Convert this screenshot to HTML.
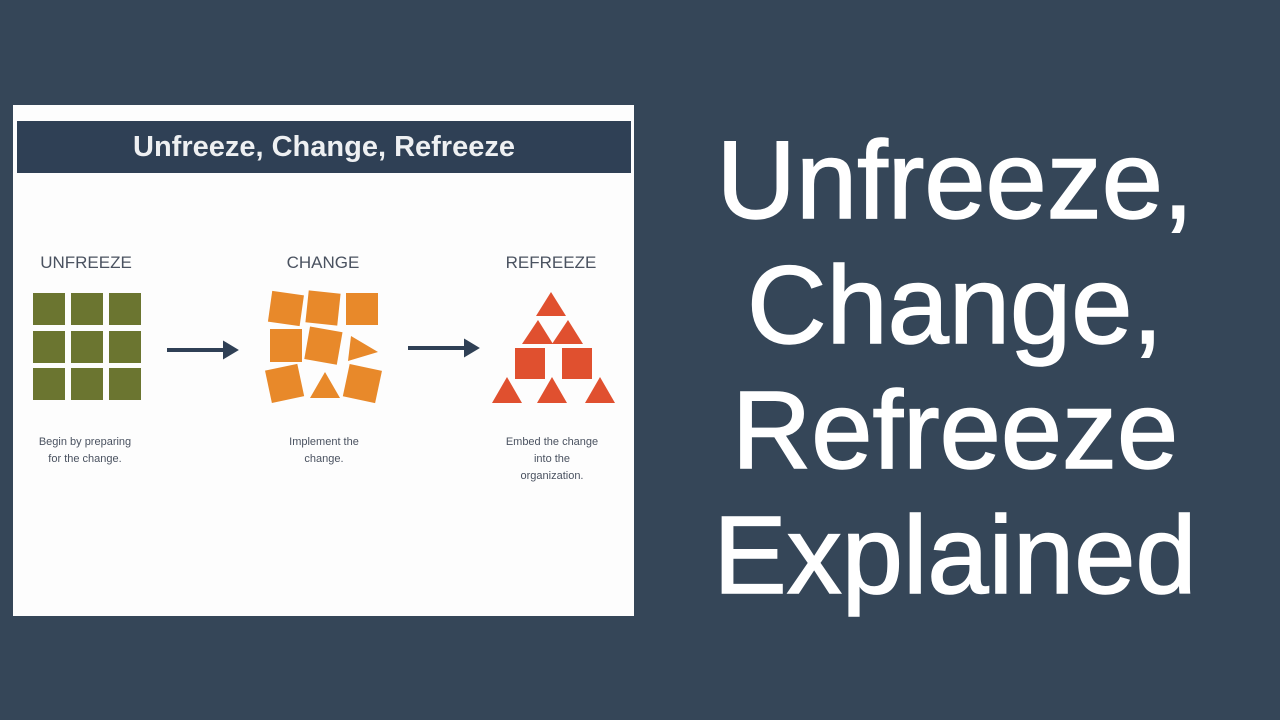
<!DOCTYPE html>
<html><head><meta charset="utf-8"><style>
html,body{margin:0;padding:0}
body{width:1280px;height:720px;background:#354658;position:relative;overflow:hidden;font-family:"Liberation Sans",sans-serif}
.panel{position:absolute;left:13px;top:105px;width:621px;height:511px;background:#fdfdfd}
.hdr{position:absolute;left:17px;top:121px;width:614px;height:52px;background:#2f4055;color:#eef0f2;font-weight:bold;font-size:29px;text-align:center;line-height:52px}
.lbl{position:absolute;color:#4a5260;font-size:17px;text-align:center;width:160px}
.cap{position:absolute;color:#4a5260;font-size:11px;text-align:center;width:160px;line-height:17px}
.big{position:absolute;left:640px;width:630px;text-align:center;color:#fff;font-size:110px;line-height:125px;top:118px;-webkit-text-stroke:1.5px #fff}
</style></head><body>
<div class="panel"></div>
<div class="hdr">Unfreeze, Change, Refreeze</div>
<div class="lbl" style="left:6px;top:253px">UNFREEZE</div>
<div class="lbl" style="left:243px;top:253px">CHANGE</div>
<div class="lbl" style="left:471px;top:253px">REFREEZE</div>
<div class="cap" style="left:5px;top:434px">Begin by preparing<br>for the change.</div>
<div class="cap" style="left:244px;top:434px">Implement the<br>change.</div>
<div class="cap" style="left:472px;top:434px">Embed the change<br>into the<br>organization.</div>
<svg width="1280" height="720" style="position:absolute;left:0;top:0">
<g fill="#6b7530">
<rect x="33" y="293" width="32" height="32"/><rect x="71" y="293" width="32" height="32"/><rect x="109" y="293" width="32" height="32"/>
<rect x="33" y="331" width="32" height="32"/><rect x="71" y="331" width="32" height="32"/><rect x="109" y="331" width="32" height="32"/>
<rect x="33" y="368" width="32" height="32"/><rect x="71" y="368" width="32" height="32"/><rect x="109" y="368" width="32" height="32"/>
</g>
<g stroke="#2f4055" stroke-width="4" fill="#2f4055">
<line x1="167" y1="350" x2="226" y2="350"/><path d="M225 344 L235 350 L225 356Z"/>
<line x1="408" y1="348" x2="467" y2="348"/><path d="M466 342 L476 348 L466 354Z"/>
</g>
<g fill="#e8892a">
<rect x="270" y="293" width="32" height="31" transform="rotate(8 286 308)"/>
<rect x="307" y="292" width="32" height="32" transform="rotate(6 323 308)"/>
<rect x="346" y="293" width="32" height="32"/>
<rect x="270" y="329" width="32" height="33"/>
<rect x="307" y="329" width="33" height="33" transform="rotate(10 323 345)"/>
<path d="M351 336 L378 352 L348 361Z"/>
<rect x="268" y="367" width="33" height="33" transform="rotate(-12 284 383)"/>
<path d="M325 372 L340 398 L310 398Z"/>
<rect x="346" y="367" width="33" height="33" transform="rotate(12 362 383)"/>
</g>
<g fill="#e0502f">
<path d="M551 292 L566 316 L536 316Z"/>
<path d="M538 320 L553 344 L522 344Z"/>
<path d="M568 320 L583 344 L552 344Z"/>
<rect x="515" y="348" width="30" height="31"/>
<rect x="562" y="348" width="30" height="31"/>
<path d="M507 377 L522 403 L492 403Z"/>
<path d="M552 377 L567 403 L537 403Z"/>
<path d="M600 377 L615 403 L585 403Z"/>
</g>
</svg>
<div class="big">Unfreeze,<br>Change,<br>Refreeze<br>Explained</div>
</body></html>
